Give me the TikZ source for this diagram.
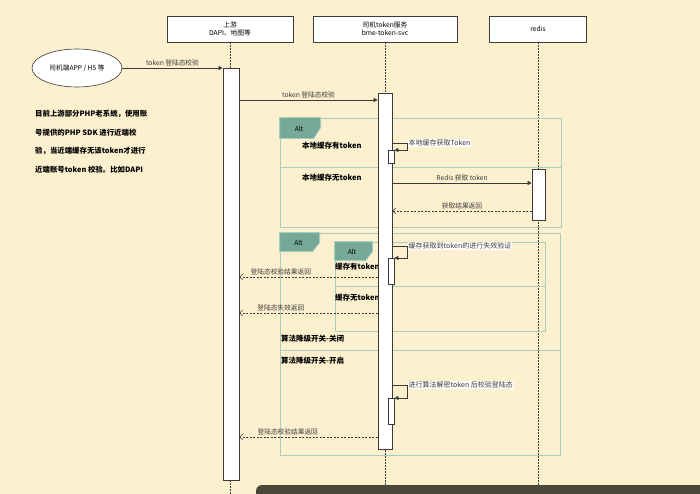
\documentclass[tikz,border=0pt]{standalone}
\usepackage{fontspec}
\setmainfont{Noto Sans CJK SC}
\usetikzlibrary{arrows.meta,shapes,positioning}
\definecolor{paper}{HTML}{FCF0CF}
\definecolor{altfill}{HTML}{76A99A}
\definecolor{altline}{HTML}{A9CDBB}
\definecolor{ink}{HTML}{3A3A3A}
\definecolor{toolbar}{HTML}{4A463A}

\begin{document}
\begin{tikzpicture}
			[x=1pt, y=-1pt, font=\fontsize{6.7}{8}\selectfont,
			actor/.style={rectangle, draw=ink, fill=white, line width=0.8pt, minimum height=26pt, align=center, inner sep=1pt},
			bar/.style={rectangle, draw=ink, fill=white, line width=0.7pt, inner sep=0pt, anchor=north},
			life/.style={ink, line width=0.5pt, dash pattern=on 1.5pt off 1.5pt},
			frame/.style={rectangle, draw=altline, line width=0.8pt, inner sep=0pt},
			tab/.style={fill=altfill, draw=altline, line width=0.8pt},
			guard/.style={anchor=west, inner sep=0pt, font=\fontsize{7.5}{9}\selectfont\bfseries},
			call/.style={ink, line width=0.6pt, -{Triangle[length=4pt,width=4pt]}},
			ret/.style={ink, line width=0.5pt, dash pattern=on 2pt off 1.5pt, -{Straight Barb[length=3pt,width=6pt]}},
			lbl/.style={above, inner sep=1.5pt},
			selflbl/.style={right, fill=white, inner sep=1pt, font=\fontsize{7}{8}\selectfont},]
          	\fill[paper] (0,0) rectangle (700,494);
          	\useasboundingbox (0,0) rectangle (700,494);
          	\clip (0,0) rectangle (700,494);
          	\node[actor, minimum width=126pt] (up) at (230,29) {上游\\DAPI、地图等};
          	\node[actor, minimum width=144pt] (svc) at (385,29) {司机token服务\\bme-token-svc};
          	\node[actor, minimum width=97pt] (redis) at (538,29) {redis};
          	\coordinate (upend) at (230,494);
          	\coordinate (svcend) at (385,494);
          	\coordinate (redisend) at (538,494);
          	\draw[life] (up) -- (upend);
          	\draw[life] (svc) -- (svcend);
          	\draw[life] (redis) -- (redisend);
          	\node[ellipse, draw=ink, fill=white, line width=0.6pt, minimum width=90pt, minimum height=38pt, inner sep=0pt] (app) at (77,68) {司机端APP / H5 等};
          	\node[anchor=north west, align=left, inner sep=0pt, font=\fontsize{7.4}{18.5}\selectfont\bfseries] (note) at (35,110) {目前上游部分PHP老系统，使用账\\号提供的PHP SDK 进行近端校\\验，当近端缓存无该token才进行\\近端账号token 校验。比如DAPI};
          	\node[frame, minimum width=281pt, minimum height=109pt] (alt1) at (420.5,172.5) {};
          	\draw[tab] (alt1.north west) -- ++(41,0) -- ++(0,10) -- ++(-7,11) -- ++(-34,0) -- cycle;
          	\node at (299,128.5) {Alt};
          	\coordinate (d1) at (0,167);
          	\draw[altline, line width=0.8pt] (alt1.west |- d1) -- (alt1.east |- d1);
          	\node[guard] (g1) at (302,146) {本地缓存有token};
          	\node[guard] (g2) at (302,178) {本地缓存无token};
          	\node[frame, minimum width=280pt, minimum height=222pt] (alt2) at (420,344) {};
          	\draw[tab] (alt2.north west) -- ++(40,0) -- ++(0,10) -- ++(-7,9) -- ++(-33,0) -- cycle;
          	\node at (298.5,242.5) {Alt};
          	\coordinate (d2) at (0,350);
          	\draw[altline, line width=0.8pt] (alt2.west |- d2) -- (alt2.east |- d2);
          	\node[frame, minimum width=210pt, minimum height=89pt] (alt3) at (440,286.5) {};
          	\draw[tab] (alt3.north west) -- ++(38,0) -- ++(0,10) -- ++(-7,9) -- ++(-31,0) -- cycle;
          	\node at (352,252) {Alt};
          	\coordinate (d3) at (0,286);
          	\draw[altline, line width=0.8pt] (alt3.west |- d3) -- (alt3.east |- d3);
          	\node[guard] (g3) at (335,267) {缓存有token};
          	\node[guard] (g4) at (335,298) {缓存无token};
          	\node[guard] (g5) at (281,339) {算法降级开关-关闭};
          	\node[guard] (g6) at (281,361) {算法降级开关-开启};
          	\node[bar, minimum width=16pt, minimum height=412pt] (upbar) at (231,68) {};
          	\node[bar, minimum width=14pt, minimum height=356pt] (svcbar) at (385,93) {};
          	\node[bar, minimum width=13pt, minimum height=51pt] (redisbar) at (538.5,169) {};
          	\node[bar, minimum width=6pt, minimum height=13pt] (sub1) at (391,150) {};
          	\node[bar, minimum width=6pt, minimum height=26pt] (sub2) at (391,258) {};
          	\node[bar, minimum width=6pt, minimum height=26pt] (sub3) at (391,398) {};
          	\coordinate (m2) at (0,100);
          	\coordinate (s1) at (0,143);
          	\coordinate (m3) at (0,183);
          	\coordinate (m4) at (0,211);
          	\coordinate (s2) at (0,246);
          	\coordinate (r1) at (0,277);
          	\coordinate (r2) at (0,313);
          	\coordinate (s3) at (0,385);
          	\coordinate (r3) at (0,437);
         	\draw[call] (app.east) -- (upbar.north west) node[lbl, midway] {token 登陆态校验};
         	\draw[call] (upbar.east |- m2) -- (svcbar.west |- m2) node[lbl, midway] {token 登陆态校验};
         	\draw[call] (svcbar.east |- s1) -- ++(15,0) node[selflbl] {本地缓存获取Token} |- (sub1.north east);
         	\draw[call] (svcbar.east |- m3) -- (redisbar.west |- m3) node[lbl, midway] {Redis 获取 token};
         	\draw[ret] (redisbar.west |- m4) -- (svcbar.east |- m4) node[lbl, midway] {获取结果返回};
         	\draw[call] (svcbar.east |- s2) -- ++(15,0) node[selflbl] {缓存获取到token的进行失效验证} |- (sub2.north east);
         	\draw[ret] (svcbar.west |- r1) -- (upbar.east |- r1) node[lbl, pos=0.7] {登陆态校验结果返回};
         	\draw[ret] (svcbar.west |- r2) -- (upbar.east |- r2) node[lbl, pos=0.7] {登陆态失效返回};
         	\draw[call] (svcbar.east |- s3) -- ++(15,0) node[selflbl] {进行算法解密token 后校验登陆态} |- (sub3.north east);
         	\draw[ret] (svcbar.west |- r3) -- (upbar.east |- r3) node[lbl, pos=0.65] {登陆态校验结果返回};
          	\fill[toolbar, rounded corners=6pt] (256,485) rectangle (712,506);
			\end{tikzpicture}
\end{document}
